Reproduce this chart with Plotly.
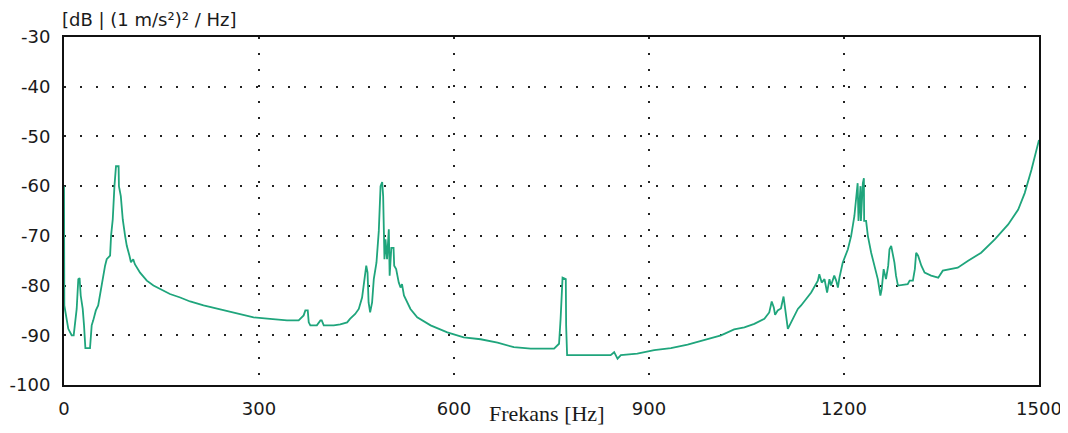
import plotly.graph_objects as go

freq_hz = [0, 0.5, 6.6, 11.8, 14.9, 19.5, 22, 24, 25.7, 28.8, 30.8, 32.9, 40, 42.6, 45, 49, 52.6, 55, 57.5,
           60.6, 63.2, 65.7, 70.9, 72.4, 75, 77.6, 80, 84, 84.5, 87.4, 90.4, 94, 96.6, 100.7, 103, 106.5, 109,
           117, 127.4, 137.6, 148, 163, 178.7, 194, 214.7, 240, 266, 291.7, 317, 343, 361, 368.7, 371.3, 375,
           376.5, 379, 389, 394.5, 396.5, 399.6, 415, 425, 435.6, 440, 448, 453.5, 458.6, 461, 463.7, 465, 467,
           468.6, 471, 474, 476.6, 480.7, 484.3, 487, 489.5, 491, 493, 494.6, 497, 499.7, 501, 503.6, 507, 508,
           511, 515, 517.7, 520, 523, 533, 543.4, 564, 589.7, 615, 641, 667, 692, 718, 754, 761.6, 764, 767,
           772, 772.5, 774, 785, 841, 846.4, 851.6, 856.7, 882, 908, 933.7, 959.4, 985, 1010.8, 1031, 1046.7,
           1062, 1077.5, 1085, 1088.8, 1092, 1094, 1098, 1103, 1107, 1111, 1113.6, 1118.6, 1129, 1134, 1149.5,
           1159.8, 1162, 1165.7, 1170, 1174, 1177.6, 1180, 1185, 1188, 1190.6, 1193, 1198, 1206, 1211, 1216,
           1218.6, 1221, 1222.3, 1225.4, 1226, 1229, 1230.6, 1231, 1234, 1236.7, 1241.8, 1247, 1252, 1256,
           1258, 1261, 1264.6, 1268, 1270, 1272.6, 1275, 1277.6, 1280, 1283, 1298, 1301, 1306, 1309, 1311,
           1314, 1319, 1324, 1334, 1345, 1352, 1365, 1375, 1391, 1411, 1432, 1452.6, 1468, 1478, 1488.4,
           1496, 1500]

level_db = [-60, -84, -88.7, -90, -90, -84.7, -78.7, -78.5, -82, -84.7, -88, -92.6, -92.6, -88, -87, -85, -84,
            -82, -80, -78, -76, -74.7, -74, -70, -66.7, -60, -56, -56, -60, -62, -66.7, -70, -72, -74, -75.3,
            -74.7, -75.7, -77.4, -79, -80, -80.7, -81.7, -82.4, -83.2, -84, -84.8, -85.7, -86.4, -86.7, -87,
            -87, -86, -85, -85, -87.4, -88, -88, -87, -87, -88, -88, -87.8, -87.4, -86.7, -85.7, -84.7, -82.4,
            -80, -78, -76, -77.4, -83.4, -85.4, -83.4, -78.7, -75.4, -69, -60, -59.2, -62, -74.7, -70.7, -74.7,
            -68.7, -78, -72.4, -72.4, -76, -76.7, -79.4, -80.4, -79.7, -82, -84.7, -86.4, -88, -89.4, -90.4,
            -90.8, -91.5, -92.4, -92.7, -92.7, -91.7, -86.7, -78.4, -78.7, -88, -94, -94, -94, -93.4, -94.7,
            -94, -93.7, -93, -92.6, -91.9, -90.9, -90, -88.8, -88.4, -87.7, -86.7, -85.4, -83.2, -84.4, -85.9,
            -85, -84.6, -82.2, -86, -88.7, -87.4, -84.7, -84, -81.4, -79, -77.7, -79.4, -78.7, -81.4, -78.7,
            -80, -78, -79, -80.4, -78.4, -75.4, -72.7, -70, -66, -62, -59.4, -67, -60, -67, -59.4, -58.4, -67,
            -67, -70, -73.4, -76, -78.7, -82, -80.7, -76.7, -78.7, -76, -72.7, -72, -73.4, -75.4, -78, -80,
            -79.7, -79, -79, -76.7, -73.4, -74, -76, -77.4, -78, -78.4, -77, -76.7, -76.4, -75, -73.4, -70.7,
            -67.7, -64.7, -61.4, -56.7, -52.7, -50.7]

x_ticks = [0, 300, 600, 900, 1200, 1500]
y_ticks = [-30, -40, -50, -60, -70, -80, -90, -100]

fig = go.Figure()
fig.add_trace(go.Scatter(x=freq_hz, y=level_db, mode="lines",
                         line=dict(color="#1fa57c", width=1.8), hoverinfo="skip"))

tick_font = dict(family="DejaVu Sans, Arial, sans-serif", size=18, color="#1a1a1a")
grid_common = dict(showgrid=True, gridcolor="#222222", gridwidth=2, griddash="2px,14px",
                   zeroline=False, showline=True, linecolor="#111111", linewidth=2, mirror=True,
                   ticks="", tickfont=tick_font, automargin=False)

fig.update_xaxes(range=[0, 1500], tickvals=x_ticks, ticktext=[str(v) for v in x_ticks],
                 ticklabelstandoff=6, **grid_common)
fig.update_yaxes(range=[-100, -30], tickvals=y_ticks, ticktext=[str(v) for v in y_ticks],
                 ticklabelstandoff=8, **grid_common)

fig.add_annotation(text="[dB | (1 m/s²)² / Hz]", xref="paper", yref="paper", x=0, y=1,
                   xanchor="left", yanchor="middle", xshift=-4, yshift=18, showarrow=False,
                   font=dict(family="DejaVu Sans, Arial, sans-serif", size=18, color="#1a1a1a"))
fig.add_annotation(text="Frekans [Hz]", xref="paper", yref="paper", x=(546 - 64) / 975, y=0,
                   xanchor="center", yanchor="middle", yshift=-28, showarrow=False,
                   font=dict(family="Liberation Serif, Times New Roman, serif", size=22, color="#1a1a1a"))

# the page body adds an 8px offset, so the figure is sized to land the plot area where the reference has it
fig.update_layout(width=1060, height=425, margin=dict(l=56, r=29, t=29, b=48, autoexpand=False),
                  paper_bgcolor="white", plot_bgcolor="white", showlegend=False)

fig.write_html("out.html")
